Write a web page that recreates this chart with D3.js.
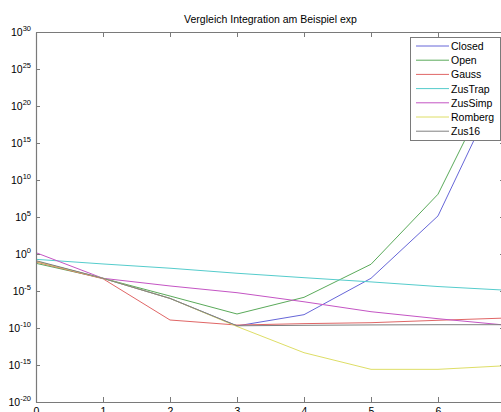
<!DOCTYPE html>
<html>
<head>
<meta charset="utf-8">
<script src="https://cdn.jsdelivr.net/npm/d3@7"></script>
<style>
  html, body { margin: 0; padding: 0; background: #fff; }
  svg { display: block; font-family: "Liberation Sans", Arial, sans-serif; }
</style>
</head>
<body>
<svg id="chart" width="501" height="412"></svg>
<script>
// ---- data ----
const title = "Vergleich Integration am Beispiel exp";
const xValues = [0, 1, 2, 3, 4, 5, 6, 7];
const seriesNames = ["Closed", "Open", "Gauss", "ZusTrap", "ZusSimp", "Romberg", "Zus16"];
const seriesColors = ["#6666d8", "#5aaa5a", "#e06666", "#55cccc", "#c455c4", "#dede66", "#808080"];
const closedVals  = [1.0e-1, 5.2e-4, 1.0e-6, 1.9e-10, 6.3e-9, 5.2e-4, 1.4e5, 1.6e24];
const openVals    = [5.5e-2, 5.2e-4, 2.1e-6, 7.8e-9, 1.4e-6, 4.1e-2, 1.2e8, 2.0e26];
const gaussVals   = [8.3e-2, 4.5e-4, 1.2e-9, 2.5e-10, 3.9e-10, 5.2e-10, 1.1e-9, 2.2e-9];
const zusTrapVals = [1.9e-1, 4.5e-2, 1.2e-2, 2.5e-3, 6.3e-4, 1.7e-4, 4.0e-5, 1.3e-5];
const zusSimpVals = [1.5, 5.2e-4, 4.8e-5, 5.9e-6, 3.5e-7, 1.6e-8, 1.8e-9, 2.5e-10];
const rombergVals = [1.0e-1, 5.2e-4, 1.0e-6, 1.6e-10, 4.6e-14, 2.6e-16, 2.6e-16, 7.9e-16];
const zus16Vals   = [1.26e-1, 5.2e-4, 1.0e-6, 2.0e-10, 2.3e-10, 2.6e-10, 2.8e-10, 2.8e-10];
const xTicks = [0, 1, 2, 3, 4, 5, 6, 7];
const yTickExponents = [-20, -15, -10, -5, 0, 5, 10, 15, 20, 25, 30];

const allSeries = [closedVals, openVals, gaussVals, zusTrapVals, zusSimpVals, rombergVals, zus16Vals];

(function () {
  // ---- layout ----
  const svg = d3.select("#chart");
  const pLeft = 36, pRight = 505, pTop = 32, pBottom = 402;
  const x = d3.scaleLinear().domain([0, 7]).range([pLeft, pRight]);
  const y = d3.scaleLog().domain([1e-20, 1e30]).range([pBottom, pTop]);
  const axisColor = "#7a7a7a";

  svg.append("defs").append("clipPath").attr("id", "plotclip")
    .append("rect").attr("x", pLeft).attr("y", pTop)
    .attr("width", pRight - pLeft).attr("height", pBottom - pTop);

  // title
  svg.append("text").attr("x", (pLeft + pRight) / 2).attr("y", 23)
    .attr("text-anchor", "middle").attr("font-size", 10.5).attr("fill", "#000")
    .text(title);

  // lines
  const line = d3.line().x((d, i) => x(xValues[i])).y(d => y(d));
  const plot = svg.append("g").attr("clip-path", "url(#plotclip)");
  allSeries.forEach((vals, i) => {
    plot.append("path").datum(vals)
      .attr("d", line).attr("fill", "none")
      .attr("stroke", seriesColors[i]).attr("stroke-width", 1);
  });

  // axes box with inward ticks
  const yTickVals = yTickExponents.map(e => Math.pow(10, e));
  const axG = svg.append("g");
  const bottomAxis = d3.axisBottom(x).tickValues(xTicks).tickFormat(d3.format("d"))
    .tickSizeInner(-5).tickSizeOuter(0).tickPadding(6);
  const topAxis = d3.axisTop(x).tickValues(xTicks).tickSizeInner(-5).tickSizeOuter(0).tickFormat("");
  const leftAxis = d3.axisLeft(y).tickValues(yTickVals).tickSizeInner(-4).tickSizeOuter(0).tickFormat("");
  const rightAxis = d3.axisRight(y).tickValues(yTickVals).tickSizeInner(-5).tickSizeOuter(0).tickFormat("");

  const gb = axG.append("g").attr("transform", `translate(0,${pBottom})`).call(bottomAxis);
  const gt = axG.append("g").attr("transform", `translate(0,${pTop})`).call(topAxis);
  const gl = axG.append("g").attr("transform", `translate(${pLeft},0)`).call(leftAxis);
  const gr = axG.append("g").attr("transform", `translate(${pRight},0)`).call(rightAxis);
  [gb, gt, gl, gr].forEach(g => {
    g.selectAll("path").attr("stroke", axisColor).attr("stroke-width", 1.2);
    g.selectAll("line").attr("stroke", axisColor);
  });
  gb.selectAll("text").attr("font-size", 10.5).attr("fill", "#000")
    .attr("font-family", "Liberation Sans, Arial, sans-serif");

  // y tick labels with superscript exponents
  const yl = svg.append("g");
  yTickExponents.forEach(e => {
    const t = yl.append("text").attr("x", 31).attr("y", y(Math.pow(10, e)) + 4)
      .attr("text-anchor", "end").attr("font-size", 10.5).attr("fill", "#000");
    t.append("tspan").text("10");
    t.append("tspan").attr("dy", -5).attr("font-size", 7.5).text(String(e));
  });

  // legend
  const lg = svg.append("g");
  lg.append("rect").attr("x", 410.5).attr("y", 37.5).attr("width", 90).attr("height", 103)
    .attr("fill", "#fff").attr("stroke", "#7a7a7a").attr("stroke-width", 1);
  seriesNames.forEach((name, i) => {
    const yy = 46 + i * 14.2;
    lg.append("line").attr("x1", 416).attr("x2", 449).attr("y1", yy).attr("y2", yy)
      .attr("stroke", seriesColors[i]).attr("stroke-width", 1);
    lg.append("text").attr("x", 451).attr("y", yy + 4).attr("font-size", 10.5)
      .attr("fill", "#000").text(name);
  });
})();
</script>
</body>
</html>
